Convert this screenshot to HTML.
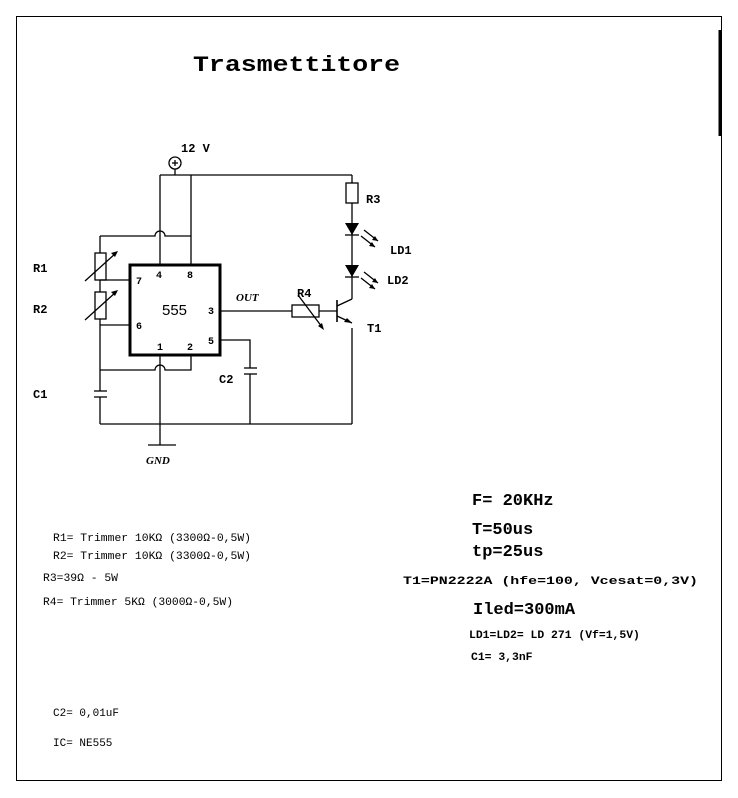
<!DOCTYPE html>
<html><head><meta charset="utf-8"><style>
html,body{margin:0;padding:0;background:#fff;}
svg{display:block;}
.m{font-family:"Liberation Mono",monospace;}
</style></head><body>
<svg width="738" height="798" viewBox="0 0 738 798" xmlns="http://www.w3.org/2000/svg">
<rect x="16.5" y="16.5" width="705" height="764" fill="none" stroke="#000" stroke-width="1"/>
<line x1="720" y1="30" x2="720" y2="136" stroke="#000" stroke-width="3"/>
<text x="193" y="71" class="m" font-size="22" font-weight="bold" textLength="207" lengthAdjust="spacingAndGlyphs">Trasmettitore</text>

<g stroke="#000" stroke-width="1.3" fill="none">
<circle cx="175" cy="163" r="6"/>
<line x1="172" y1="163" x2="178" y2="163"/><line x1="175" y1="160" x2="175" y2="166"/>
<line x1="175" y1="169" x2="175" y2="175"/>
<line x1="160" y1="175" x2="352" y2="175"/>
<line x1="160" y1="175" x2="160" y2="231"/>
<line x1="160" y1="241" x2="160" y2="265"/>
<line x1="191" y1="175" x2="191" y2="265"/>
<path d="M100 236 H155 A5 5 0 0 1 165 236 H191"/>
<line x1="160" y1="231" x2="160" y2="241"/>
<rect x="130" y="265" width="90" height="90" stroke-width="3"/>
<line x1="100" y1="236" x2="100" y2="253"/>
<rect x="95" y="253" width="11" height="27"/>
<line x1="100" y1="280" x2="100" y2="292"/>
<rect x="95" y="292" width="11" height="27"/>
<line x1="100" y1="319" x2="100" y2="391"/>
<line x1="100" y1="280" x2="130" y2="280"/>
<line x1="100" y1="325" x2="130" y2="325"/>
<line x1="85" y1="281" x2="116" y2="253"/>
<line x1="85" y1="320" x2="116" y2="292"/>
<line x1="94" y1="391" x2="107" y2="391"/><line x1="94" y1="397" x2="107" y2="397"/>
<line x1="100" y1="397" x2="100" y2="424"/>
<line x1="100" y1="424" x2="352" y2="424"/>
<path d="M100 370 H155 A5 5 0 0 1 165 370 H191 V355"/>
<line x1="160" y1="355" x2="160" y2="445"/>
<line x1="148" y1="445" x2="176" y2="445"/>
<path d="M220 340 H250 V368"/>
<line x1="244" y1="368" x2="257" y2="368"/><line x1="244" y1="374" x2="257" y2="374"/>
<line x1="250" y1="374" x2="250" y2="424"/>
<line x1="220" y1="311" x2="292" y2="311"/>
<rect x="292" y="305" width="27" height="12"/>
<line x1="319" y1="311" x2="337" y2="311"/>
<line x1="298" y1="295" x2="322" y2="327"/>
<line x1="337" y1="300" x2="337" y2="322" stroke-width="1.6"/>
<line x1="337" y1="306" x2="352" y2="299"/>
<line x1="337" y1="316" x2="352" y2="323"/>
<line x1="352" y1="175" x2="352" y2="183"/>
<rect x="346" y="183" width="12" height="20"/>
<line x1="352" y1="203" x2="352" y2="299"/>
<line x1="352" y1="328" x2="352" y2="424"/>
<line x1="345" y1="235" x2="359" y2="235"/>
<line x1="345" y1="277" x2="359" y2="277"/>
<line x1="364" y1="230" x2="378" y2="241"/><line x1="361" y1="236" x2="375" y2="247"/>
<line x1="364" y1="272" x2="378" y2="283"/><line x1="361" y1="278" x2="375" y2="289"/>
</g>
<g fill="#000">
<polygon points="345,223 359,223 352,235"/>
<polygon points="345,265 359,265 352,277"/>
<polygon points="352,323 344,322 347,318"/>
<polygon points="118,251 111,253 115,257"/>
<polygon points="118,290 111,292 115,296"/>
<polygon points="324,330 318,326 322,323"/>
<polygon points="378,241 372,240 375,236"/><polygon points="375,247 369,246 372,242"/>
<polygon points="378,283 372,282 375,278"/><polygon points="375,289 369,288 372,284"/>
</g>

<g class="m" font-weight="bold" font-size="12">
<text x="181" y="152">12 V</text>
<text x="366" y="203">R3</text>
<text x="390" y="254">LD1</text>
<text x="387" y="284">LD2</text>
<text x="297" y="297">R4</text>
<text x="367" y="332">T1</text>
<text x="33" y="272">R1</text>
<text x="33" y="313">R2</text>
<text x="33" y="398">C1</text>
<text x="219" y="383">C2</text>
<g font-size="10">
<text x="156" y="278">4</text><text x="187" y="278">8</text>
<text x="136" y="284">7</text><text x="136" y="329">6</text>
<text x="208" y="314">3</text><text x="208" y="344">5</text>
<text x="157" y="350">1</text><text x="187" y="350">2</text>
</g>
</g>
<text x="236" y="301" font-family="Liberation Serif,serif" font-style="italic" font-weight="bold" font-size="11">OUT</text>
<text x="146" y="464" font-family="Liberation Serif,serif" font-style="italic" font-weight="bold" font-size="11">GND</text>
<text x="162" y="315" font-family="Liberation Sans,sans-serif" font-size="15">555</text>

<g class="m" font-size="11">
<text x="53" y="541" textLength="198" lengthAdjust="spacingAndGlyphs">R1= Trimmer 10KΩ (3300Ω-0,5W)</text>
<text x="53" y="559" textLength="198" lengthAdjust="spacingAndGlyphs">R2= Trimmer 10KΩ (3300Ω-0,5W)</text>
<text x="43" y="581" textLength="75" lengthAdjust="spacingAndGlyphs">R3=39Ω - 5W</text>
<text x="43" y="605" textLength="190" lengthAdjust="spacingAndGlyphs">R4= Trimmer 5KΩ (3000Ω-0,5W)</text>
<text x="53" y="716">C2= 0,01uF</text>
<text x="53" y="746">IC= NE555</text>
</g>
<g class="m" font-weight="bold">
<text x="472" y="505" font-size="17">F= 20KHz</text>
<text x="472" y="534" font-size="17">T=50us</text>
<text x="472" y="556" font-size="17">tp=25us</text>
<text x="403" y="584" font-size="11.4" textLength="295" lengthAdjust="spacingAndGlyphs">T1=PN2222A (hfe=100, Vcesat=0,3V)</text>
<text x="473" y="614" font-size="17">Iled=300mA</text>
<text x="469" y="638" font-size="11.4">LD1=LD2= LD 271 (Vf=1,5V)</text>
<text x="471" y="660" font-size="11.4">C1= 3,3nF</text>
</g>
</svg>
</body></html>
